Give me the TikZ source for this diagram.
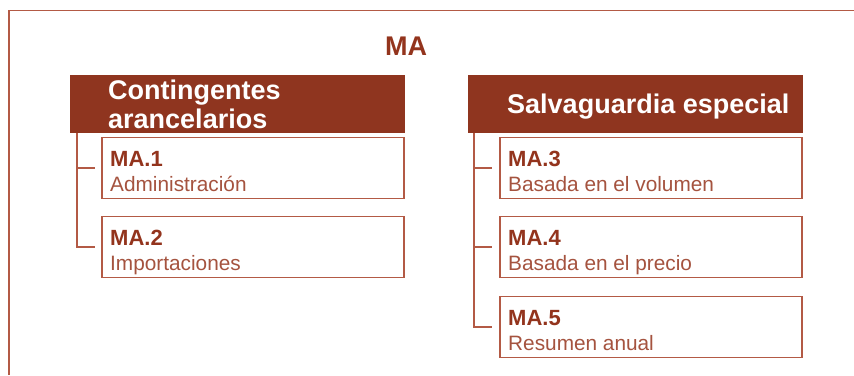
\documentclass[tikz,border=0pt]{standalone}
\usepackage{fontspec}
\setmainfont{Liberation Sans}
\definecolor{hdr}{HTML}{8F351F}
\definecolor{ttl}{HTML}{93341D}
\definecolor{frm}{HTML}{B35A45}
\definecolor{desc}{HTML}{A5533F}
\begin{document}
\begin{tikzpicture}[x=1pt,y=-1pt,
  hdrbox/.style={fill=hdr,draw=none,minimum width=335pt,minimum height=58pt,inner sep=0pt,outer sep=0pt},
  itembox/.style={draw=frm,line width=1.2pt,fill=white,minimum width=302pt,minimum height=61pt,inner sep=0pt},
  tree/.style={draw=frm,line width=1.2pt},
  hdrtxt/.style={text=white,font=\bfseries\fontsize{27}{29}\selectfont,anchor=base west,inner sep=0pt,align=left},
  numtxt/.style={text=ttl,font=\bfseries\fontsize{22}{24}\selectfont,anchor=base west,inner sep=0pt},
  desctxt/.style={text=desc,font=\fontsize{20.8}{24}\selectfont,anchor=base west,inner sep=0pt}]
\useasboundingbox (0,0) rectangle (854,375);
% outer frame
\coordinate (ftr) at (854,10.5);
\coordinate (fbl) at (9,375);
\draw[frm,line width=1.2pt] (fbl) |- (ftr);
% title
\node[text=ttl,font=\bfseries\fontsize{27}{30}\selectfont,inner sep=0pt] (ma) at (406,46) {MA};
% headers
\node[hdrbox] (hl) at (237.5,104) {};
\node[hdrbox] (hr) at (635.5,104) {};
\node[hdrtxt] (hlt) at (108,99) {Contingentes};
\node[hdrtxt] (hlt2) at (108,128) {arancelarios};
\node[hdrtxt] (hrt) at (507,113.5) {Salvaguardia especial};
% item boxes
\node[itembox] (b1) at (253,168) {};
\node[itembox] (b2) at (253,247) {};
\node[itembox] (b3) at (651,168) {};
\node[itembox] (b4) at (651,247) {};
\node[itembox] (b5) at (651,327) {};
% texts
\node[numtxt] (n1) at (110,166) {MA.1};
\node[desctxt] (d1) at (110,191) {Administración};
\node[numtxt] (n2) at (110,245) {MA.2};
\node[desctxt] (d2) at (110,270) {Importaciones};
\node[numtxt] (n3) at (508,166) {MA.3};
\node[desctxt] (d3) at (508,191) {Basada en el volumen};
\node[numtxt] (n4) at (508,245) {MA.4};
\node[desctxt] (d4) at (508,270) {Basada en el precio};
\node[numtxt] (n5) at (508,325) {MA.5};
\node[desctxt] (d5) at (508,350) {Resumen anual};
% tree connectors
\coordinate (lt) at ([xshift=7pt]hl.south west);
\coordinate (rt) at ([xshift=6pt]hr.south west);
\draw[tree] (lt) |- ([xshift=-6pt]b2.west);
\draw[tree] (lt |- b1.west) -- ([xshift=-6pt]b1.west);
\draw[tree] (rt) |- ([xshift=-7pt]b5.west);
\draw[tree] (rt |- b3.west) -- ([xshift=-7pt]b3.west);
\draw[tree] (rt |- b4.west) -- ([xshift=-7pt]b4.west);
\end{tikzpicture}
\end{document}
